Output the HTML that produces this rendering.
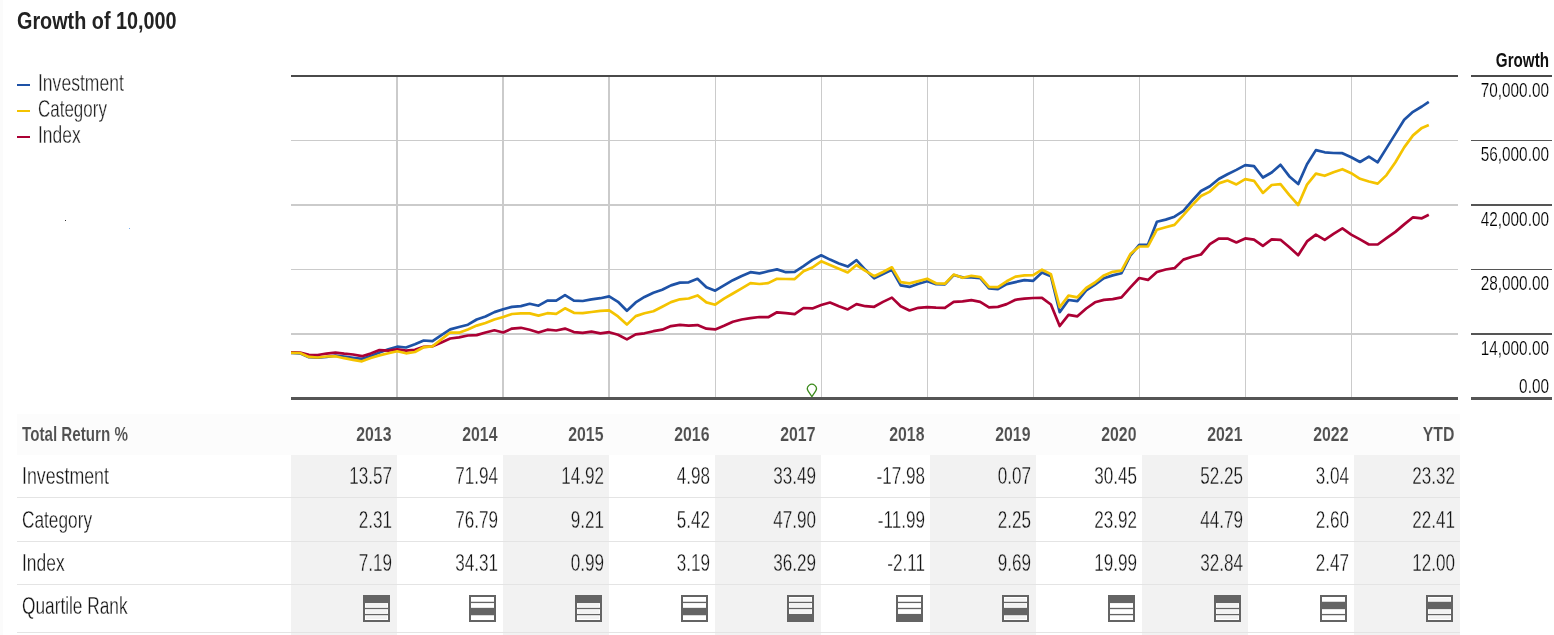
<!DOCTYPE html>
<html><head><meta charset="utf-8"><title>Growth of 10,000</title>
<style>html,body{margin:0;padding:0;background:#fff;}svg{display:block;}</style>
</head><body>
<svg width="1554" height="635" viewBox="0 0 1554 635" font-family='"Liberation Sans", Arial, sans-serif' shape-rendering="crispEdges">
<rect x="0" y="0" width="1554" height="635" fill="#fff"/>
<rect x="0" y="0" width="3" height="635" fill="#fbfbfb"/>
<text x="20.94" y="28.90" transform="scale(0.812 1)" font-size="24.4" font-weight="700" fill="#222" text-anchor="start">Growth of 10,000</text>
<rect x="17" y="84" width="13" height="2" fill="#1e52a6"/>
<text x="49.78" y="91.50" transform="scale(0.763304347826087 1)" font-size="23.0" font-weight="400" fill="#1e1e1e" stroke="#fff" stroke-width="0.3" text-anchor="start">Investment</text>
<rect x="17" y="110" width="13" height="2" fill="#f4c300"/>
<text x="51.45" y="117.50" transform="scale(0.7385217391304348 1)" font-size="23.0" font-weight="400" fill="#1e1e1e" stroke="#fff" stroke-width="0.3" text-anchor="start">Category</text>
<rect x="17" y="136" width="13" height="2" fill="#ab0034"/>
<text x="50.11" y="143.50" transform="scale(0.7583478260869565 1)" font-size="23.0" font-weight="400" fill="#1e1e1e" stroke="#fff" stroke-width="0.3" text-anchor="start">Index</text>
<rect x="65" y="220" width="1" height="1" fill="#333"/>
<rect x="129" y="228" width="1" height="1" fill="#7ab0f0"/>
<rect x="396" y="77" width="2" height="320" fill="#cbcbcb"/>
<rect x="502" y="77" width="2" height="320" fill="#cbcbcb"/>
<rect x="608" y="77" width="2" height="320" fill="#cbcbcb"/>
<rect x="715" y="77" width="1" height="320" fill="#cbcbcb"/>
<rect x="821" y="77" width="1" height="320" fill="#cbcbcb"/>
<rect x="927" y="77" width="1" height="320" fill="#cbcbcb"/>
<rect x="1033" y="77" width="1" height="320" fill="#cbcbcb"/>
<rect x="1139" y="77" width="1" height="320" fill="#cbcbcb"/>
<rect x="1245" y="77" width="1" height="320" fill="#cbcbcb"/>
<rect x="1351" y="77" width="1" height="320" fill="#cbcbcb"/>
<rect x="291" y="140" width="1167" height="1" fill="#cbcbcb"/>
<rect x="1471" y="140" width="81" height="1" fill="#555"/>
<rect x="291" y="204" width="1167" height="2" fill="#cbcbcb"/>
<rect x="1471" y="204" width="81" height="2" fill="#555"/>
<rect x="291" y="269" width="1167" height="1" fill="#cbcbcb"/>
<rect x="1471" y="269" width="81" height="1" fill="#555"/>
<rect x="291" y="333" width="1167" height="2" fill="#cbcbcb"/>
<rect x="1471" y="333" width="81" height="2" fill="#555"/>
<rect x="291" y="75" width="1167" height="2" fill="#4a4a4a"/>
<rect x="1471" y="75" width="81" height="2" fill="#4a4a4a"/>
<rect x="291" y="397" width="1167" height="3" fill="#555"/>
<rect x="1471" y="397" width="81" height="3" fill="#555"/>
<polyline points="291.0,352.9 300.0,353.3 308.9,357.2 317.7,357.7 326.5,357.0 335.4,355.6 344.2,356.7 353.0,357.8 361.9,358.9 370.7,356.0 379.5,352.5 388.4,349.2 397.2,346.7 406.0,347.5 414.9,344.2 423.7,340.5 432.5,341.1 441.4,335.1 450.2,329.4 459.0,327.0 467.9,324.7 476.7,319.5 485.5,316.5 494.4,312.1 503.2,309.2 512.0,306.9 520.9,306.1 529.7,303.8 538.5,305.7 547.4,300.6 556.2,300.6 565.0,295.2 573.9,300.6 582.7,301.0 591.5,299.4 600.4,298.2 609.2,296.4 618.0,301.8 626.9,310.8 635.7,302.4 644.5,296.9 653.4,292.8 662.2,289.8 671.0,285.4 679.9,282.6 688.7,282.3 697.5,278.8 706.4,287.2 715.2,290.7 724.0,285.4 732.9,280.2 741.7,276.0 750.5,272.2 759.4,273.4 768.2,271.3 777.0,269.4 785.9,272.2 794.7,271.9 803.5,266.1 812.4,259.9 821.2,255.3 830.0,259.6 838.9,263.4 847.7,266.6 856.5,260.2 865.4,269.8 874.2,278.4 883.0,274.1 891.9,269.8 900.7,285.3 909.5,286.9 918.4,283.7 927.2,281.2 936.0,284.2 944.9,284.4 953.7,275.0 962.5,277.4 971.4,277.4 980.2,278.1 989.0,288.4 997.9,289.2 1006.7,284.1 1015.5,282.1 1024.4,280.1 1033.2,280.8 1042.0,272.5 1050.9,276.3 1059.7,312.2 1068.5,300.0 1077.4,301.2 1086.2,290.5 1095.0,284.6 1103.9,278.2 1112.7,275.4 1121.5,273.2 1130.4,255.5 1139.2,244.9 1148.0,244.6 1156.9,221.7 1165.7,219.6 1174.5,216.7 1183.4,210.9 1192.2,200.7 1201.0,191.0 1209.9,186.3 1218.7,179.0 1227.5,174.2 1236.4,169.9 1245.2,165.1 1254.0,166.2 1262.9,177.5 1271.7,172.5 1280.5,164.8 1289.4,176.4 1298.2,184.1 1307.0,164.3 1315.9,150.1 1324.7,152.3 1333.5,153.0 1342.4,153.2 1351.2,157.3 1360.0,162.0 1368.9,156.7 1377.7,162.3 1386.5,148.1 1395.4,133.9 1404.2,119.7 1413.0,111.8 1421.9,106.5 1428.8,101.8" fill="none" stroke="#1e52a6" stroke-width="2.7" stroke-linejoin="round" stroke-linecap="butt" shape-rendering="geometricPrecision"/>
<polyline points="291.0,352.3 300.0,352.5 308.9,354.8 317.7,355.0 326.5,353.7 335.4,352.7 344.2,353.7 353.0,354.5 361.9,356.2 370.7,353.6 379.5,350.1 388.4,350.6 397.2,349.3 406.0,350.7 414.9,349.8 423.7,346.8 432.5,346.3 441.4,342.4 450.2,338.5 459.0,337.4 467.9,335.5 476.7,335.1 485.5,332.5 494.4,330.3 503.2,332.5 512.0,328.6 520.9,327.8 529.7,329.7 538.5,332.5 547.4,329.7 556.2,330.5 565.0,328.6 573.9,332.1 582.7,332.9 591.5,331.7 600.4,333.3 609.2,332.2 618.0,334.8 626.9,339.4 635.7,334.3 644.5,333.3 653.4,331.2 662.2,329.7 671.0,326.1 679.9,324.9 688.7,325.6 697.5,325.1 706.4,328.7 715.2,329.4 724.0,325.7 732.9,321.7 741.7,319.5 750.5,318.1 759.4,317.0 768.2,317.2 777.0,312.3 785.9,313.2 794.7,314.1 803.5,308.0 812.4,308.4 821.2,305.0 830.0,302.5 838.9,306.2 847.7,309.4 856.5,304.1 865.4,306.2 874.2,306.8 883.0,301.9 891.9,297.6 900.7,306.2 909.5,310.5 918.4,307.8 927.2,307.2 936.0,307.7 944.9,307.8 953.7,301.8 962.5,301.4 971.4,300.2 980.2,301.8 989.0,307.3 997.9,306.9 1006.7,304.1 1015.5,299.8 1024.4,298.6 1033.2,298.0 1042.0,297.8 1050.9,304.5 1059.7,326.0 1068.5,314.9 1077.4,316.3 1086.2,308.5 1095.0,302.3 1103.9,299.9 1112.7,299.1 1121.5,297.4 1130.4,287.4 1139.2,278.0 1148.0,279.9 1156.9,272.0 1165.7,269.5 1174.5,268.2 1183.4,259.6 1192.2,256.7 1201.0,254.5 1209.9,244.2 1218.7,238.6 1227.5,238.6 1236.4,242.4 1245.2,238.4 1254.0,239.6 1262.9,245.9 1271.7,239.4 1280.5,239.8 1289.4,247.3 1298.2,255.2 1307.0,241.4 1315.9,234.7 1324.7,239.8 1333.5,233.9 1342.4,228.4 1351.2,234.6 1360.0,239.4 1368.9,244.5 1377.7,244.5 1386.5,238.2 1395.4,231.9 1404.2,224.4 1413.0,217.3 1421.9,218.3 1428.8,214.8" fill="none" stroke="#ab0034" stroke-width="2.7" stroke-linejoin="round" stroke-linecap="butt" shape-rendering="geometricPrecision"/>
<polyline points="291.0,352.8 300.0,353.0 308.9,356.9 317.7,357.5 326.5,356.5 335.4,356.3 344.2,358.2 353.0,359.8 361.9,361.3 370.7,358.0 379.5,355.4 388.4,353.3 397.2,351.3 406.0,353.3 414.9,352.0 423.7,347.2 432.5,346.3 441.4,339.4 450.2,332.5 459.0,332.7 467.9,329.4 476.7,325.6 485.5,323.0 494.4,319.5 503.2,317.0 512.0,314.0 520.9,313.4 529.7,313.4 538.5,315.6 547.4,313.2 556.2,313.8 565.0,308.3 573.9,312.8 582.7,313.2 591.5,312.0 600.4,310.8 609.2,310.3 618.0,316.4 626.9,324.6 635.7,316.1 644.5,313.3 653.4,311.3 662.2,306.7 671.0,302.1 679.9,299.3 688.7,298.5 697.5,295.4 706.4,302.4 715.2,304.7 724.0,298.7 732.9,293.5 741.7,288.3 750.5,283.1 759.4,284.0 768.2,283.1 777.0,278.8 785.9,279.0 794.7,279.1 803.5,271.3 812.4,267.5 821.2,261.3 830.0,265.0 838.9,268.7 847.7,272.5 856.5,265.0 865.4,270.9 874.2,276.2 883.0,272.0 891.9,267.3 900.7,282.1 909.5,283.4 918.4,281.1 927.2,278.7 936.0,283.3 944.9,283.7 953.7,274.6 962.5,277.8 971.4,275.8 980.2,277.0 989.0,286.8 997.9,287.2 1006.7,281.3 1015.5,276.6 1024.4,275.4 1033.2,275.1 1042.0,269.7 1050.9,274.1 1059.7,307.2 1068.5,295.6 1077.4,297.3 1086.2,288.0 1095.0,282.5 1103.9,275.4 1112.7,271.8 1121.5,270.7 1130.4,254.1 1139.2,246.5 1148.0,246.4 1156.9,229.7 1165.7,227.3 1174.5,224.9 1183.4,215.2 1192.2,205.1 1201.0,196.0 1209.9,191.6 1218.7,183.4 1227.5,180.5 1236.4,184.4 1245.2,179.1 1254.0,180.8 1262.9,192.9 1271.7,185.0 1280.5,184.1 1289.4,195.1 1298.2,205.0 1307.0,184.6 1315.9,173.6 1324.7,175.8 1333.5,172.2 1342.4,169.2 1351.2,173.2 1360.0,178.8 1368.9,181.5 1377.7,183.6 1386.5,175.1 1395.4,162.3 1404.2,147.4 1413.0,135.4 1421.9,127.9 1428.8,124.9" fill="none" stroke="#f4c300" stroke-width="2.7" stroke-linejoin="round" stroke-linecap="butt" shape-rendering="geometricPrecision"/>
<path d="M811.9,396.6 L808.2,391.2 A4.45,4.45 0 1 1 815.6,391.2 Z" fill="none" stroke="#3c8a1c" stroke-width="1.3" stroke-linejoin="round" shape-rendering="geometricPrecision"/>
<text x="1985.90" y="66.80" transform="scale(0.78 1)" font-size="19.5" font-weight="700" fill="#111" text-anchor="end">Growth</text>
<text x="2038.16" y="97.10" transform="scale(0.76 1)" font-size="20.2" font-weight="400" fill="#000" stroke="#fff" stroke-width="0.2" text-anchor="end">70,000.00</text>
<text x="2038.16" y="160.70" transform="scale(0.76 1)" font-size="20.2" font-weight="400" fill="#000" stroke="#fff" stroke-width="0.2" text-anchor="end">56,000.00</text>
<text x="2038.16" y="225.60" transform="scale(0.76 1)" font-size="20.2" font-weight="400" fill="#000" stroke="#fff" stroke-width="0.2" text-anchor="end">42,000.00</text>
<text x="2038.16" y="290.20" transform="scale(0.76 1)" font-size="20.2" font-weight="400" fill="#000" stroke="#fff" stroke-width="0.2" text-anchor="end">28,000.00</text>
<text x="2038.16" y="355.00" transform="scale(0.76 1)" font-size="20.2" font-weight="400" fill="#000" stroke="#fff" stroke-width="0.2" text-anchor="end">14,000.00</text>
<text x="2038.16" y="392.80" transform="scale(0.76 1)" font-size="20.2" font-weight="400" fill="#000" stroke="#fff" stroke-width="0.2" text-anchor="end">0.00</text>
<rect x="17" y="414" width="1443" height="41" fill="#fcfcfc"/>
<rect x="291" y="455" width="106" height="180" fill="#f2f2f2"/>
<rect x="503" y="455" width="106" height="180" fill="#f2f2f2"/>
<rect x="715" y="455" width="106" height="180" fill="#f2f2f2"/>
<rect x="930" y="455" width="106" height="180" fill="#f2f2f2"/>
<rect x="1142" y="455" width="106" height="180" fill="#f2f2f2"/>
<rect x="1354" y="455" width="106" height="180" fill="#f2f2f2"/>
<rect x="17" y="497" width="1443" height="1" fill="#e4e4e4"/>
<rect x="17" y="541" width="1443" height="1" fill="#e4e4e4"/>
<rect x="17" y="584" width="1443" height="1" fill="#e4e4e4"/>
<rect x="17" y="632" width="1443" height="1" fill="#e4e4e4"/>
<text x="28.95" y="441.00" transform="scale(0.76 1)" font-size="20" font-weight="700" fill="#505050" stroke="#fcfcfc" stroke-width="0.1" text-anchor="start">Total Return %</text>
<text x="493.69" y="441.00" transform="scale(0.793 1)" font-size="20" font-weight="700" fill="#505050" stroke="#fcfcfc" stroke-width="0.1" text-anchor="end">2013</text>
<text x="527.24" y="484.50" transform="scale(0.7435 1)" font-size="23.0" font-weight="400" fill="#141414" stroke="#f2f2f2" stroke-width="0.3" text-anchor="end">13.57</text>
<text x="527.24" y="528.50" transform="scale(0.7435 1)" font-size="23.0" font-weight="400" fill="#141414" stroke="#f2f2f2" stroke-width="0.3" text-anchor="end">2.31</text>
<text x="527.24" y="571.50" transform="scale(0.7435 1)" font-size="23.0" font-weight="400" fill="#141414" stroke="#f2f2f2" stroke-width="0.3" text-anchor="end">7.19</text>
<text x="627.36" y="441.00" transform="scale(0.793 1)" font-size="20" font-weight="700" fill="#505050" stroke="#fcfcfc" stroke-width="0.1" text-anchor="end">2014</text>
<text x="669.80" y="484.50" transform="scale(0.7435 1)" font-size="23.0" font-weight="400" fill="#141414" stroke="#fff" stroke-width="0.3" text-anchor="end">71.94</text>
<text x="669.80" y="528.50" transform="scale(0.7435 1)" font-size="23.0" font-weight="400" fill="#141414" stroke="#fff" stroke-width="0.3" text-anchor="end">76.79</text>
<text x="669.80" y="571.50" transform="scale(0.7435 1)" font-size="23.0" font-weight="400" fill="#141414" stroke="#fff" stroke-width="0.3" text-anchor="end">34.31</text>
<text x="761.03" y="441.00" transform="scale(0.793 1)" font-size="20" font-weight="700" fill="#505050" stroke="#fcfcfc" stroke-width="0.1" text-anchor="end">2015</text>
<text x="812.37" y="484.50" transform="scale(0.7435 1)" font-size="23.0" font-weight="400" fill="#141414" stroke="#f2f2f2" stroke-width="0.3" text-anchor="end">14.92</text>
<text x="812.37" y="528.50" transform="scale(0.7435 1)" font-size="23.0" font-weight="400" fill="#141414" stroke="#f2f2f2" stroke-width="0.3" text-anchor="end">9.21</text>
<text x="812.37" y="571.50" transform="scale(0.7435 1)" font-size="23.0" font-weight="400" fill="#141414" stroke="#f2f2f2" stroke-width="0.3" text-anchor="end">0.99</text>
<text x="894.70" y="441.00" transform="scale(0.793 1)" font-size="20" font-weight="700" fill="#505050" stroke="#fcfcfc" stroke-width="0.1" text-anchor="end">2016</text>
<text x="954.94" y="484.50" transform="scale(0.7435 1)" font-size="23.0" font-weight="400" fill="#141414" stroke="#fff" stroke-width="0.3" text-anchor="end">4.98</text>
<text x="954.94" y="528.50" transform="scale(0.7435 1)" font-size="23.0" font-weight="400" fill="#141414" stroke="#fff" stroke-width="0.3" text-anchor="end">5.42</text>
<text x="954.94" y="571.50" transform="scale(0.7435 1)" font-size="23.0" font-weight="400" fill="#141414" stroke="#fff" stroke-width="0.3" text-anchor="end">3.19</text>
<text x="1028.37" y="441.00" transform="scale(0.793 1)" font-size="20" font-weight="700" fill="#505050" stroke="#fcfcfc" stroke-width="0.1" text-anchor="end">2017</text>
<text x="1097.51" y="484.50" transform="scale(0.7435 1)" font-size="23.0" font-weight="400" fill="#141414" stroke="#f2f2f2" stroke-width="0.3" text-anchor="end">33.49</text>
<text x="1097.51" y="528.50" transform="scale(0.7435 1)" font-size="23.0" font-weight="400" fill="#141414" stroke="#f2f2f2" stroke-width="0.3" text-anchor="end">47.90</text>
<text x="1097.51" y="571.50" transform="scale(0.7435 1)" font-size="23.0" font-weight="400" fill="#141414" stroke="#f2f2f2" stroke-width="0.3" text-anchor="end">36.29</text>
<text x="1165.83" y="441.00" transform="scale(0.793 1)" font-size="20" font-weight="700" fill="#505050" stroke="#fcfcfc" stroke-width="0.1" text-anchor="end">2018</text>
<text x="1244.12" y="484.50" transform="scale(0.7435 1)" font-size="23.0" font-weight="400" fill="#141414" stroke="#fff" stroke-width="0.3" text-anchor="end">-17.98</text>
<text x="1244.12" y="528.50" transform="scale(0.7435 1)" font-size="23.0" font-weight="400" fill="#141414" stroke="#fff" stroke-width="0.3" text-anchor="end">-11.99</text>
<text x="1244.12" y="571.50" transform="scale(0.7435 1)" font-size="23.0" font-weight="400" fill="#141414" stroke="#fff" stroke-width="0.3" text-anchor="end">-2.11</text>
<text x="1299.50" y="441.00" transform="scale(0.793 1)" font-size="20" font-weight="700" fill="#505050" stroke="#fcfcfc" stroke-width="0.1" text-anchor="end">2019</text>
<text x="1386.68" y="484.50" transform="scale(0.7435 1)" font-size="23.0" font-weight="400" fill="#141414" stroke="#f2f2f2" stroke-width="0.3" text-anchor="end">0.07</text>
<text x="1386.68" y="528.50" transform="scale(0.7435 1)" font-size="23.0" font-weight="400" fill="#141414" stroke="#f2f2f2" stroke-width="0.3" text-anchor="end">2.25</text>
<text x="1386.68" y="571.50" transform="scale(0.7435 1)" font-size="23.0" font-weight="400" fill="#141414" stroke="#f2f2f2" stroke-width="0.3" text-anchor="end">9.69</text>
<text x="1433.17" y="441.00" transform="scale(0.793 1)" font-size="20" font-weight="700" fill="#505050" stroke="#fcfcfc" stroke-width="0.1" text-anchor="end">2020</text>
<text x="1529.25" y="484.50" transform="scale(0.7435 1)" font-size="23.0" font-weight="400" fill="#141414" stroke="#fff" stroke-width="0.3" text-anchor="end">30.45</text>
<text x="1529.25" y="528.50" transform="scale(0.7435 1)" font-size="23.0" font-weight="400" fill="#141414" stroke="#fff" stroke-width="0.3" text-anchor="end">23.92</text>
<text x="1529.25" y="571.50" transform="scale(0.7435 1)" font-size="23.0" font-weight="400" fill="#141414" stroke="#fff" stroke-width="0.3" text-anchor="end">19.99</text>
<text x="1566.83" y="441.00" transform="scale(0.793 1)" font-size="20" font-weight="700" fill="#505050" stroke="#fcfcfc" stroke-width="0.1" text-anchor="end">2021</text>
<text x="1671.82" y="484.50" transform="scale(0.7435 1)" font-size="23.0" font-weight="400" fill="#141414" stroke="#f2f2f2" stroke-width="0.3" text-anchor="end">52.25</text>
<text x="1671.82" y="528.50" transform="scale(0.7435 1)" font-size="23.0" font-weight="400" fill="#141414" stroke="#f2f2f2" stroke-width="0.3" text-anchor="end">44.79</text>
<text x="1671.82" y="571.50" transform="scale(0.7435 1)" font-size="23.0" font-weight="400" fill="#141414" stroke="#f2f2f2" stroke-width="0.3" text-anchor="end">32.84</text>
<text x="1700.50" y="441.00" transform="scale(0.793 1)" font-size="20" font-weight="700" fill="#505050" stroke="#fcfcfc" stroke-width="0.1" text-anchor="end">2022</text>
<text x="1814.39" y="484.50" transform="scale(0.7435 1)" font-size="23.0" font-weight="400" fill="#141414" stroke="#fff" stroke-width="0.3" text-anchor="end">3.04</text>
<text x="1814.39" y="528.50" transform="scale(0.7435 1)" font-size="23.0" font-weight="400" fill="#141414" stroke="#fff" stroke-width="0.3" text-anchor="end">2.60</text>
<text x="1814.39" y="571.50" transform="scale(0.7435 1)" font-size="23.0" font-weight="400" fill="#141414" stroke="#fff" stroke-width="0.3" text-anchor="end">2.47</text>
<text x="1834.17" y="441.00" transform="scale(0.793 1)" font-size="20" font-weight="700" fill="#505050" stroke="#fcfcfc" stroke-width="0.1" text-anchor="end">YTD</text>
<text x="1956.96" y="484.50" transform="scale(0.7435 1)" font-size="23.0" font-weight="400" fill="#141414" stroke="#f2f2f2" stroke-width="0.3" text-anchor="end">23.32</text>
<text x="1956.96" y="528.50" transform="scale(0.7435 1)" font-size="23.0" font-weight="400" fill="#141414" stroke="#f2f2f2" stroke-width="0.3" text-anchor="end">22.41</text>
<text x="1956.96" y="571.50" transform="scale(0.7435 1)" font-size="23.0" font-weight="400" fill="#141414" stroke="#f2f2f2" stroke-width="0.3" text-anchor="end">12.00</text>
<text x="28.45" y="484.50" transform="scale(0.773217391304348 1)" font-size="23.0" font-weight="400" fill="#141414" stroke="#fff" stroke-width="0.3" text-anchor="start">Investment</text>
<text x="29.32" y="528.50" transform="scale(0.7504173913043478 1)" font-size="23.0" font-weight="400" fill="#141414" stroke="#fff" stroke-width="0.3" text-anchor="start">Category</text>
<text x="29.01" y="571.50" transform="scale(0.7583478260869565 1)" font-size="23.0" font-weight="400" fill="#141414" stroke="#fff" stroke-width="0.3" text-anchor="start">Index</text>
<text x="29.28" y="614.50" transform="scale(0.7514086956521738 1)" font-size="23.0" font-weight="400" fill="#141414" stroke="#fff" stroke-width="0.3" text-anchor="start">Quartile Rank</text>
<rect x="363" y="595" width="27" height="27" fill="#646464"/><rect x="365" y="603.08" width="23" height="4.75" fill="#fff" shape-rendering="geometricPrecision"/><rect x="366" y="604.08" width="21" height="2.75" fill="#f2f2f2" shape-rendering="geometricPrecision"/><rect x="365" y="609.17" width="23" height="4.75" fill="#fff" shape-rendering="geometricPrecision"/><rect x="366" y="610.17" width="21" height="2.75" fill="#f2f2f2" shape-rendering="geometricPrecision"/><rect x="365" y="615.25" width="23" height="4.75" fill="#fff" shape-rendering="geometricPrecision"/><rect x="366" y="616.25" width="21" height="2.75" fill="#f2f2f2" shape-rendering="geometricPrecision"/>
<rect x="469" y="595" width="27" height="27" fill="#646464"/><rect x="471" y="597.00" width="23" height="4.75" fill="#fff" shape-rendering="geometricPrecision"/><rect x="472" y="598.00" width="21" height="2.75" fill="#ffffff" shape-rendering="geometricPrecision"/><rect x="471" y="603.08" width="23" height="4.75" fill="#fff" shape-rendering="geometricPrecision"/><rect x="472" y="604.08" width="21" height="2.75" fill="#ffffff" shape-rendering="geometricPrecision"/><rect x="471" y="615.25" width="23" height="4.75" fill="#fff" shape-rendering="geometricPrecision"/><rect x="472" y="616.25" width="21" height="2.75" fill="#ffffff" shape-rendering="geometricPrecision"/>
<rect x="575" y="595" width="27" height="27" fill="#646464"/><rect x="577" y="603.08" width="23" height="4.75" fill="#fff" shape-rendering="geometricPrecision"/><rect x="578" y="604.08" width="21" height="2.75" fill="#f2f2f2" shape-rendering="geometricPrecision"/><rect x="577" y="609.17" width="23" height="4.75" fill="#fff" shape-rendering="geometricPrecision"/><rect x="578" y="610.17" width="21" height="2.75" fill="#f2f2f2" shape-rendering="geometricPrecision"/><rect x="577" y="615.25" width="23" height="4.75" fill="#fff" shape-rendering="geometricPrecision"/><rect x="578" y="616.25" width="21" height="2.75" fill="#f2f2f2" shape-rendering="geometricPrecision"/>
<rect x="681" y="595" width="27" height="27" fill="#646464"/><rect x="683" y="597.00" width="23" height="4.75" fill="#fff" shape-rendering="geometricPrecision"/><rect x="684" y="598.00" width="21" height="2.75" fill="#ffffff" shape-rendering="geometricPrecision"/><rect x="683" y="603.08" width="23" height="4.75" fill="#fff" shape-rendering="geometricPrecision"/><rect x="684" y="604.08" width="21" height="2.75" fill="#ffffff" shape-rendering="geometricPrecision"/><rect x="683" y="615.25" width="23" height="4.75" fill="#fff" shape-rendering="geometricPrecision"/><rect x="684" y="616.25" width="21" height="2.75" fill="#ffffff" shape-rendering="geometricPrecision"/>
<rect x="787" y="595" width="27" height="27" fill="#646464"/><rect x="789" y="597.00" width="23" height="4.75" fill="#fff" shape-rendering="geometricPrecision"/><rect x="790" y="598.00" width="21" height="2.75" fill="#f2f2f2" shape-rendering="geometricPrecision"/><rect x="789" y="603.08" width="23" height="4.75" fill="#fff" shape-rendering="geometricPrecision"/><rect x="790" y="604.08" width="21" height="2.75" fill="#f2f2f2" shape-rendering="geometricPrecision"/><rect x="789" y="609.17" width="23" height="4.75" fill="#fff" shape-rendering="geometricPrecision"/><rect x="790" y="610.17" width="21" height="2.75" fill="#f2f2f2" shape-rendering="geometricPrecision"/>
<rect x="896" y="595" width="27" height="27" fill="#646464"/><rect x="898" y="597.00" width="23" height="4.75" fill="#fff" shape-rendering="geometricPrecision"/><rect x="899" y="598.00" width="21" height="2.75" fill="#ffffff" shape-rendering="geometricPrecision"/><rect x="898" y="603.08" width="23" height="4.75" fill="#fff" shape-rendering="geometricPrecision"/><rect x="899" y="604.08" width="21" height="2.75" fill="#ffffff" shape-rendering="geometricPrecision"/><rect x="898" y="609.17" width="23" height="4.75" fill="#fff" shape-rendering="geometricPrecision"/><rect x="899" y="610.17" width="21" height="2.75" fill="#ffffff" shape-rendering="geometricPrecision"/>
<rect x="1002" y="595" width="27" height="27" fill="#646464"/><rect x="1004" y="597.00" width="23" height="4.75" fill="#fff" shape-rendering="geometricPrecision"/><rect x="1005" y="598.00" width="21" height="2.75" fill="#f2f2f2" shape-rendering="geometricPrecision"/><rect x="1004" y="603.08" width="23" height="4.75" fill="#fff" shape-rendering="geometricPrecision"/><rect x="1005" y="604.08" width="21" height="2.75" fill="#f2f2f2" shape-rendering="geometricPrecision"/><rect x="1004" y="615.25" width="23" height="4.75" fill="#fff" shape-rendering="geometricPrecision"/><rect x="1005" y="616.25" width="21" height="2.75" fill="#f2f2f2" shape-rendering="geometricPrecision"/>
<rect x="1108" y="595" width="27" height="27" fill="#646464"/><rect x="1110" y="603.08" width="23" height="4.75" fill="#fff" shape-rendering="geometricPrecision"/><rect x="1111" y="604.08" width="21" height="2.75" fill="#ffffff" shape-rendering="geometricPrecision"/><rect x="1110" y="609.17" width="23" height="4.75" fill="#fff" shape-rendering="geometricPrecision"/><rect x="1111" y="610.17" width="21" height="2.75" fill="#ffffff" shape-rendering="geometricPrecision"/><rect x="1110" y="615.25" width="23" height="4.75" fill="#fff" shape-rendering="geometricPrecision"/><rect x="1111" y="616.25" width="21" height="2.75" fill="#ffffff" shape-rendering="geometricPrecision"/>
<rect x="1214" y="595" width="27" height="27" fill="#646464"/><rect x="1216" y="603.08" width="23" height="4.75" fill="#fff" shape-rendering="geometricPrecision"/><rect x="1217" y="604.08" width="21" height="2.75" fill="#f2f2f2" shape-rendering="geometricPrecision"/><rect x="1216" y="609.17" width="23" height="4.75" fill="#fff" shape-rendering="geometricPrecision"/><rect x="1217" y="610.17" width="21" height="2.75" fill="#f2f2f2" shape-rendering="geometricPrecision"/><rect x="1216" y="615.25" width="23" height="4.75" fill="#fff" shape-rendering="geometricPrecision"/><rect x="1217" y="616.25" width="21" height="2.75" fill="#f2f2f2" shape-rendering="geometricPrecision"/>
<rect x="1320" y="595" width="27" height="27" fill="#646464"/><rect x="1322" y="597.00" width="23" height="4.75" fill="#fff" shape-rendering="geometricPrecision"/><rect x="1323" y="598.00" width="21" height="2.75" fill="#ffffff" shape-rendering="geometricPrecision"/><rect x="1322" y="609.17" width="23" height="4.75" fill="#fff" shape-rendering="geometricPrecision"/><rect x="1323" y="610.17" width="21" height="2.75" fill="#ffffff" shape-rendering="geometricPrecision"/><rect x="1322" y="615.25" width="23" height="4.75" fill="#fff" shape-rendering="geometricPrecision"/><rect x="1323" y="616.25" width="21" height="2.75" fill="#ffffff" shape-rendering="geometricPrecision"/>
<rect x="1426" y="595" width="27" height="27" fill="#646464"/><rect x="1428" y="597.00" width="23" height="4.75" fill="#fff" shape-rendering="geometricPrecision"/><rect x="1429" y="598.00" width="21" height="2.75" fill="#f2f2f2" shape-rendering="geometricPrecision"/><rect x="1428" y="609.17" width="23" height="4.75" fill="#fff" shape-rendering="geometricPrecision"/><rect x="1429" y="610.17" width="21" height="2.75" fill="#f2f2f2" shape-rendering="geometricPrecision"/><rect x="1428" y="615.25" width="23" height="4.75" fill="#fff" shape-rendering="geometricPrecision"/><rect x="1429" y="616.25" width="21" height="2.75" fill="#f2f2f2" shape-rendering="geometricPrecision"/>
</svg>
</body></html>
